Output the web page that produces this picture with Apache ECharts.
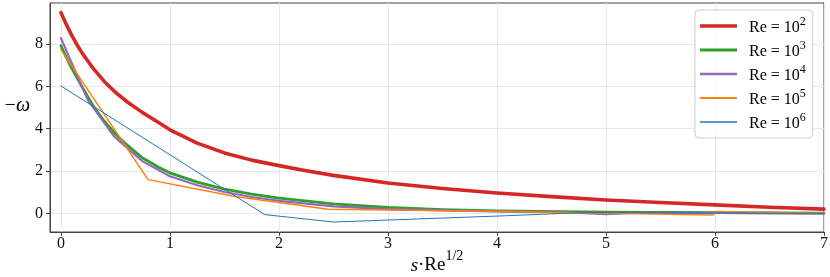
<!DOCTYPE html>
<html>
<head>
<meta charset="utf-8">
<script src="https://cdn.jsdelivr.net/npm/echarts@6/dist/echarts.min.js"></script>
<style>html,body{margin:0;padding:0;background:#fff;}#c{width:830px;height:277px;}</style>
</head>
<body>
<div id="c"></div>
<script>
const xTicks = [0, 1, 2, 3, 4, 5, 6, 7];
const yTicks = [0, 2, 4, 6, 8];
const exponents = ['2', '3', '4', '5', '6'];

const re2X = [0, 0.05, 0.1, 0.15, 0.2, 0.3, 0.4, 0.5, 0.6, 0.75, 0.9, 1.0, 1.25, 1.5, 1.75, 2.0, 2.25, 2.5, 3.0, 3.5, 4.0, 4.5, 5.0, 5.5, 6.0, 6.5, 7.0];
const re2Y = [9.48, 8.92, 8.4, 7.94, 7.53, 6.82, 6.22, 5.72, 5.3, 4.76, 4.28, 3.95, 3.32, 2.86, 2.52, 2.26, 2.02, 1.8, 1.44, 1.18, 0.97, 0.8, 0.64, 0.52, 0.41, 0.3, 0.21];

const re3X = [0, 0.05, 0.1, 0.2, 0.3, 0.4, 0.5, 0.6, 0.75, 0.9, 1.0, 1.25, 1.5, 1.75, 2.0, 2.5, 3.0, 3.5, 4.0, 5.0, 6.0, 7.0];
const re3Y = [7.92, 7.36, 6.85, 5.92, 5.04, 4.34, 3.75, 3.26, 2.62, 2.17, 1.92, 1.48, 1.15, 0.92, 0.73, 0.46, 0.29, 0.19, 0.13, 0.07, 0.04, 0.02];

const re4X = [0, 0.246, 0.49, 0.75, 1.0, 1.25, 1.5, 1.75, 2.0, 2.5, 3.0, 3.5, 4.0, 4.6, 5.0, 5.3, 6.0, 7.0];
const re4Y = [8.28, 5.36, 3.62, 2.46, 1.76, 1.33, 1.02, 0.78, 0.6, 0.34, 0.21, 0.15, 0.1, 0.06, -0.03, 0.04, 0.03, 0.01];

const re5X = [0, 0.8, 1.6, 2.45, 3.2, 4.0, 4.5, 5.98, 6.02, 6.5, 7.0];
const re5Y = [7.73, 1.6, 0.8, 0.2, 0.16, 0.11, 0.06, -0.07, 0.1, 0.05, 0.02];

const re6X = [0, 1.87, 2.5, 4.1, 4.8, 6.0, 7.0];
const re6Y = [6.02, -0.05, -0.4, -0.1, 0.05, 0.03, 0.01];

const names = ['Re2', 'Re3', 'Re4', 'Re5', 'Re6'];
const colors = ['#d62728', '#2ca02c', '#9467bd', '#ff7f0e', '#1f77b4'];
const widths = [3.6, 2.8, 2.1, 1.5, 1.0];
const legendWidths = [3.6, 3.0, 2.3, 1.9, 1.5];
const xs = [re2X, re3X, re4X, re5X, re6X];
const ys = [re2Y, re3Y, re4Y, re5Y, re6Y];

const serif = 'Liberation Serif';

const series = names.map((n, i) => ({
  name: n,
  type: 'line',
  symbol: 'none',
  showSymbol: false,
  smooth: false,
  data: xs[i].map((x, k) => [x, ys[i][k]]),
  lineStyle: { color: colors[i], width: widths[i], join: 'round', cap: 'round' },
  itemStyle: { color: colors[i] },
  emphasis: { disabled: true },
  animation: false
}));

const chart = echarts.init(document.getElementById('c'), null, { renderer: 'canvas' });
chart.setOption({
  animation: false,
  backgroundColor: '#fff',
  grid: { left: 50, right: 6, top: 3, bottom: 45, containLabel: false, outerBoundsMode: 'none', show: true, borderColor: '#444', borderWidth: 1, backgroundColor: 'transparent' },
  xAxis: {
    type: 'value', min: -0.1, max: 7,
    name: '{i|s}{n|·Re}{s|1/2}',
    nameLocation: 'middle', nameGap: 17, nameMoveOverlap: false,
    nameTextStyle: {
      rich: {
        i: { fontFamily: serif, fontStyle: 'italic', fontSize: 19, color: '#000', lineHeight: 26, verticalAlign: 'bottom' },
        n: { fontFamily: serif, fontSize: 19, color: '#000', lineHeight: 26, verticalAlign: 'bottom' },
        s: { fontFamily: serif, fontSize: 14, color: '#000', lineHeight: 14, verticalAlign: 'top' }
      }
    },
    axisLine: { show: true, onZero: false, lineStyle: { color: '#444', width: 1 } },
    axisTick: { show: true, inside: false, length: 4, customValues: xTicks, lineStyle: { color: '#444' } },
    axisLabel: { customValues: xTicks, fontFamily: serif, fontSize: 16, color: '#111', margin: 4 },
    splitLine: { show: true, lineStyle: { color: '#e8e8e8', width: 1 } }
  },
  yAxis: {
    type: 'value', min: -0.87, max: 9.93,
    name: '{n|−}{i|ω}',
    nameLocation: 'middle', nameRotate: 0, nameGap: 20, nameMoveOverlap: false,
    nameTextStyle: {
      padding: [0, 0, 24, 0],
      rich: {
        n: { fontFamily: serif, fontSize: 20, color: '#000' },
        i: { fontFamily: serif, fontStyle: 'italic', fontSize: 20, color: '#000' }
      }
    },
    axisLine: { show: true, onZero: false, lineStyle: { color: '#444', width: 1 } },
    axisTick: { show: true, inside: false, length: 4, customValues: yTicks, lineStyle: { color: '#444' } },
    axisLabel: { customValues: yTicks, fontFamily: serif, fontSize: 16, color: '#111', margin: 7 },
    splitLine: { show: true, lineStyle: { color: '#e8e8e8', width: 1 } }
  },
  legend: {
    show: true,
    orient: 'vertical',
    left: 695, top: 10,
    padding: [6, 7, 6, 5],
    backgroundColor: 'rgba(255,255,255,0.85)',
    borderColor: '#cccccc', borderWidth: 1, borderRadius: 4,
    itemWidth: 37, itemHeight: 14, itemGap: 4,
    symbolKeepAspect: true,
    data: names.map((n, i) => ({
      name: n,
      icon: 'path://M0,0L37,0L37,' + legendWidths[i] + 'L0,' + legendWidths[i] + 'Z',
      itemStyle: { color: colors[i], borderWidth: 0 }
    })),
    formatter: function (name) {
      const i = names.indexOf(name);
      return '{t|Re = 10}{s|' + exponents[i] + '}';
    },
    textStyle: {
      rich: {
        t: { fontFamily: serif, fontSize: 16, color: '#000', lineHeight: 20, verticalAlign: 'bottom', padding: [0, 0, 0, 7] },
        s: { fontFamily: serif, fontSize: 12, color: '#000', lineHeight: 12, verticalAlign: 'top' }
      }
    }
  },
  series: series
});
</script>
</body>
</html>
